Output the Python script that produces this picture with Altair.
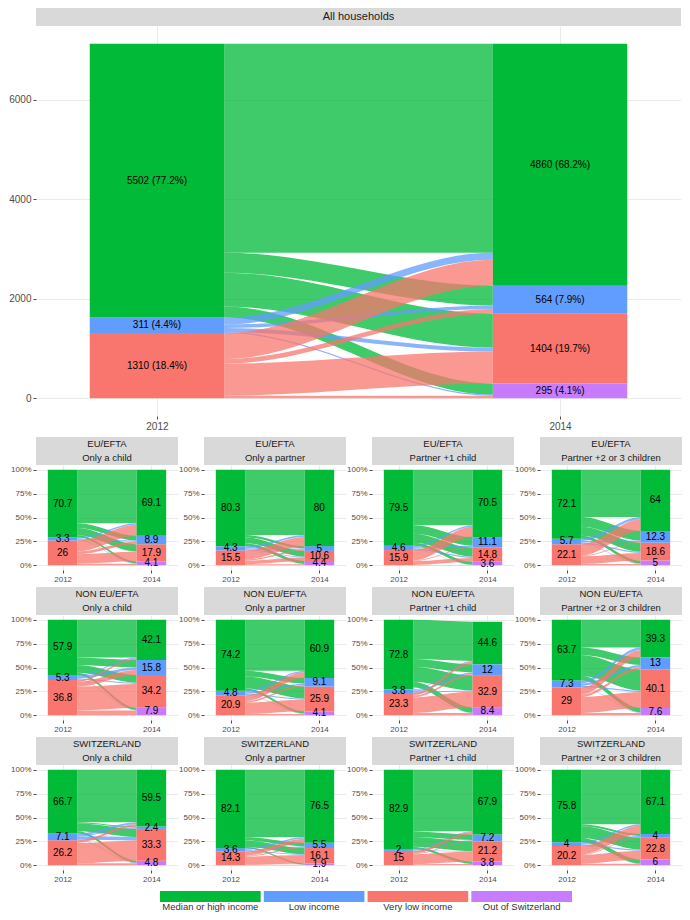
import altair as alt
import pandas as pd

# ---------------- data ----------------
CATS = ["Median or high income", "Low income", "Very low income", "Out of Switzerland"]
COLORS = ["#00BA38", "#619CFF", "#F8766D", "#C77CFF"]
YEARS = ["2012", "2014"]

ALL_TITLE = "All households"
ALL_2012 = [5502, 311, 1310]
ALL_2014 = [4860, 564, 1404, 295]
ALL_PCT_2012 = [77.2, 4.4, 18.4]
ALL_PCT_2014 = [68.2, 7.9, 19.7, 4.1]
# flows: rows = 2012 category (M, L, VL), cols = 2014 category (M, L, VL, Out)
ALL_FLOWS = [
    [4200, 400, 680, 222],
    [140, 70, 80, 21],
    [520, 94, 644, 52],
]

PANEL_REGION = ["EU/EFTA"] * 4 + ["NON EU/EFTA"] * 4 + ["SWITZERLAND"] * 4
PANEL_TYPE = ["Only a child", "Only a partner", "Partner +1 child", "Partner +2 or 3 children"] * 3

P2012 = [
    [70.7, 3.3, 26], [80.3, 4.3, 15.5], [79.5, 4.6, 15.9], [72.1, 5.7, 22.1],
    [57.9, 5.3, 36.8], [74.2, 4.8, 20.9], [72.8, 3.8, 23.3], [63.7, 7.3, 29],
    [66.7, 7.1, 26.2], [82.1, 3.6, 14.3], [82.9, 2, 15], [75.8, 4, 20.2],
]
P2014 = [
    [69.1, 8.9, 17.9, 4.1], [80, 5, 10.6, 4.4], [70.5, 11.1, 14.8, 3.6], [64, 12.3, 18.6, 5],
    [42.1, 15.8, 34.2, 7.9], [60.9, 9.1, 25.9, 4.1], [44.6, 12, 32.9, 8.4], [39.3, 13, 40.1, 7.6],
    [59.5, 2.4, 33.3, 4.8], [76.5, 5.5, 16.1, 1.9], [67.9, 7.2, 21.2, 3.8], [67.1, 4, 22.8, 6],
]
PFLOWS = [
    [[56, 5, 7.5, 2.2], [1.5, 1.0, 0.5, 0.3], [11.6, 2.9, 9.9, 1.6]],
    [[68.5, 2.5, 6.2, 3.1], [2.0, 1.2, 0.8, 0.3], [9.5, 1.3, 3.6, 1.0]],
    [[58, 9, 9.5, 3.0], [1.6, 1.5, 1.2, 0.3], [10.9, 0.6, 4.1, 0.3]],
    [[49.5, 10, 9.5, 3.1], [2.5, 1.5, 1.2, 0.5], [12, 0.8, 7.9, 1.4]],
    [[39.5, 8, 8, 2.4], [1.0, 2.5, 1.3, 0.5], [1.6, 5.3, 24.9, 5.0]],
    [[53.3, 6, 12.6, 2.3], [1.6, 1.5, 1.2, 0.5], [6, 1.6, 12.1, 1.2]],
    [[41, 8.5, 15.5, 5.8], [1.0, 1.5, 1.0, 0.3], [2.6, 2.0, 16.4, 2.3]],
    [[29, 8, 22, 4.7], [3.0, 2.5, 1.3, 0.5], [7.3, 2.5, 16.8, 2.4]],
    [[55, 1.0, 8.5, 2.2], [2.0, 1.0, 3.6, 0.5], [2.5, 0.4, 21.2, 2.1]],
    [[70.7, 3.5, 6.6, 1.3], [1.6, 1.0, 0.8, 0.2], [4.2, 1.0, 8.7, 0.4]],
    [[64.5, 5.8, 10.2, 2.4], [0.8, 0.6, 0.5, 0.1], [2.6, 0.8, 10.5, 1.1]],
    [[57, 2.2, 12.4, 4.2], [1.5, 1.0, 1.2, 0.3], [8.6, 0.8, 9.3, 1.5]],
]

# ---------------- helpers ----------------
SW = 1 / 3            # stratum width (axis units)
XL = 1 + SW / 2       # flow start
XR = 2 - SW / 2       # flow end
EPS = 0.002


def fmt(v):
    return f"{v:g}"


def strata_df(v12, v14, lab12, lab14):
    rows = []
    for axis, vals, labs in ((1, v12, lab12), (2, v14, lab14)):
        y = 0.0
        for i in reversed(range(len(vals))):
            rows.append(dict(cat=CATS[i], x0=axis - SW / 2, x1=axis + SW / 2,
                             y0=y, y1=y + vals[i], xm=axis, ym=y + vals[i] / 2,
                             label=labs[i]))
            y += vals[i]
    return pd.DataFrame(rows)


def flows_df(v12, v14, fl):
    top12, y = {}, 0.0
    for i in reversed(range(3)):
        y += v12[i]
        top12[i] = y
    top14, y = {}, 0.0
    for j in reversed(range(4)):
        y += v14[j]
        top14[j] = y
    lpos, rpos = {}, {}
    for o in range(3):
        c = top12[o]
        for d in range(4):
            lpos[(o, d)] = (c - fl[o][d], c)
            c -= fl[o][d]
    for d in range(4):
        c = top14[d]
        for o in range(3):
            rpos[(o, d)] = (c - fl[o][d], c)
            c -= fl[o][d]
    rows = []
    for o in range(3):
        for d in range(4):
            if fl[o][d] <= 0:
                continue
            (l0, l1), (r0, r1) = lpos[(o, d)], rpos[(o, d)]
            fid = f"{o}{d}"
            for x, lo, hi in ((XL, l0, l1), (XL + EPS, l0, l1), (XR - EPS, r0, r1), (XR, r0, r1)):
                rows.append(dict(fid=fid, cat=CATS[o], x=x, lo=lo, hi=hi))
    return pd.DataFrame(rows)


COLOR = alt.Color("cat:N", scale=alt.Scale(domain=CATS, range=COLORS), legend=None)


def make_panel(v12, v14, fl, lab12, lab14, strip_lines, width, height, ydom, yvals,
               ylabexpr, axis_font, val_font, strip_h, strip_font, strip_lh):
    strata = strata_df(v12, v14, lab12, lab14)
    flows = flows_df(v12, v14, fl)
    xs = alt.Scale(domain=[0.7, 2.3], nice=False, zero=False)
    ys = alt.Scale(domain=ydom, nice=False, zero=False)
    xa = alt.Axis(values=[1, 2], labelExpr="datum.value == 1 ? '2012' : '2014'",
                  title=None, labelFontSize=axis_font, grid=True)
    ya = alt.Axis(values=yvals, labelExpr=ylabexpr, title=None,
                  labelFontSize=axis_font, grid=True)

    fl_layer = alt.Chart(flows).mark_area(interpolate="monotone", opacity=0.75).encode(
        x=alt.X("x:Q", scale=xs, axis=xa),
        y=alt.Y("lo:Q", scale=ys, axis=ya, stack=None),
        y2="hi:Q",
        color=COLOR,
        detail="fid:N",
    )
    st_layer = alt.Chart(strata).mark_rect().encode(
        x=alt.X("x0:Q", scale=xs, axis=xa), x2="x1:Q",
        y=alt.Y("y0:Q", scale=ys, axis=ya), y2="y1:Q",
        color=COLOR,
    )
    tx_layer = alt.Chart(strata).mark_text(fontSize=val_font, color="black").encode(
        x=alt.X("xm:Q", scale=xs, axis=xa),
        y=alt.Y("ym:Q", scale=ys, axis=ya),
        text="label:N",
    )
    strip = pd.DataFrame({"t": [strip_lines[0]]})
    layers = [fl_layer, st_layer, tx_layer,
              alt.Chart(strip).mark_rect(color="#D9D9D9").encode(
                  x=alt.value(0), x2=alt.value(width),
                  y=alt.value(-strip_h), y2=alt.value(0))]
    n = len(strip_lines)
    for i, line in enumerate(strip_lines):
        yy = -strip_h / 2 + (i - (n - 1) / 2) * strip_lh
        layers.append(alt.Chart(pd.DataFrame({"t": [line]})).mark_text(
            fontSize=strip_font, color="#1A1A1A").encode(
            x=alt.value(width / 2), y=alt.value(yy), text="t:N"))
    return alt.layer(*layers).properties(width=width, height=height)


# ---------------- big panel ----------------
tot = sum(ALL_2012)
big = make_panel(
    ALL_2012, ALL_2014, ALL_FLOWS,
    [f"{v} ({fmt(p)}%)" for v, p in zip(ALL_2012, ALL_PCT_2012)],
    [f"{v} ({fmt(p)}%)" for v, p in zip(ALL_2014, ALL_PCT_2014)],
    [ALL_TITLE], 645, 390, [-0.05 * tot, 1.05 * tot], [0, 2000, 4000, 6000],
    "datum.value", 10, 10, 18, 11, 13,
)

# ---------------- small panels ----------------
panels = []
for k in range(12):
    panels.append(make_panel(
        P2012[k], P2014[k], PFLOWS[k],
        [fmt(v) for v in P2012[k]], [fmt(v) for v in P2014[k]],
        [PANEL_REGION[k], PANEL_TYPE[k]], 142, 105, [-5, 105],
        [0, 25, 50, 75, 100], "datum.value + '%'", 8, 10, 28, 9.5, 14,
    ))

rows = [alt.hconcat(*panels[r * 4:(r + 1) * 4], spacing=0) for r in range(3)]
grid = alt.vconcat(*rows, spacing=4)

# ---------------- legend ----------------
leg = pd.DataFrame({"cat": CATS})
band = alt.Scale(domain=CATS, range=[124, 536], paddingInner=0.03, paddingOuter=0)
legend_chart = alt.layer(
    alt.Chart(leg).mark_rect().encode(
        x=alt.X("cat:N", scale=band, axis=None, sort=CATS),
        y=alt.value(2), y2=alt.value(13), color=COLOR),
    alt.Chart(leg).mark_text(fontSize=9.5, color="#333333").encode(
        x=alt.X("cat:N", scale=band, axis=None, sort=CATS),
        y=alt.value(18), text="cat:N"),
).properties(width=560, height=22)

chart = alt.vconcat(big, grid, legend_chart, spacing=6).properties(padding=0)
chart = chart.configure(font="Liberation Sans").configure_view(stroke=None).configure_axis(
    labelColor="#4D4D4D", tickColor="#4D4D4D", tickSize=3, tickWidth=1,
    labelPadding=2, domain=False, gridColor="#EBEBEB", gridWidth=1,
)

chart.save("out.html", embed_options={"renderer": "svg", "actions": False})
